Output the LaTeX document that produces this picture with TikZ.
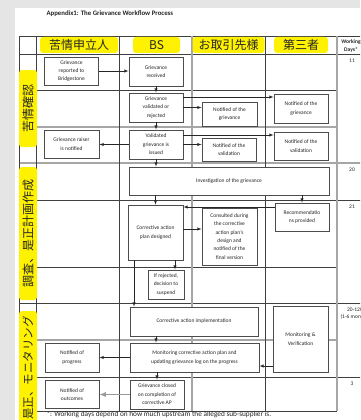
\documentclass[tikz,border=0pt]{standalone}
\usepackage{fontspec}
\setmainfont{Carlito}
\newfontfamily\jp{Noto Sans CJK JP}
\tikzstyle{task} = [draw=black!70, line width=0.8pt, fill=white, align=center, text=black!85, font={\fontsize{5.5}{8.4}\selectfont}, inner sep=1pt, minimum width=54pt, minimum height=29pt]
\tikzstyle{lane} = [fill=yellow, rounded corners=3pt, text=black!85, font={\jp\fontsize{12}{12}\selectfont}, inner sep=0pt]
\tikzstyle{rule} = [black!75, line width=0.6pt]
\tikzstyle{ruleg} = [black!35, line width=1.4pt]
\tikzstyle{days} = [anchor=north, align=center, text=black!85, font={\fontsize{5.5}{7}\selectfont}]
\tikzstyle{flow} = [->, >=latex, black!85, line width=0.5pt]

\begin{document}
\begin{tikzpicture}[x=1pt,y=-1pt]
  \useasboundingbox (0,0) rectangle (360,420);
  \clip (0,0) rectangle (360,420);
  \fill[black!10] (0,0) rectangle (360,420);
  \fill[white] (15,8) rectangle (360,420);
  \node[anchor=west, text=black!85, font={\bfseries\fontsize{6.8}{8}\selectfont}] (title) at (43,14) {Appendix1: The Grievance Workflow Process};
  \node[anchor=west, text=black!85, font={\fontsize{7.3}{9}\selectfont}] (note) at (43,414.5) {*: Working days depend on how much upstream the alleged sub-supplier is.};
  % table rules
  \foreach \y in {36,54,200,303,377} \draw[rule] (19,\y) -- (362,\y);
  \foreach \y in {90,267,411} \draw[rule] (19,\y) -- (337,\y);
  \draw[ruleg] (19,127) -- (337,127);
  \draw[ruleg] (19,340) -- (337,340);
  \draw[ruleg] (19,163) -- (362,163);
  \foreach \x in {19,36,119,265} \draw[rule] (\x,36) -- (\x,411);
  \foreach \x in {192,337} \draw[ruleg] (\x,36) -- (\x,411);
  % lanes
  \node[lane, minimum width=78pt, minimum height=16pt] (h1) at (79,45) {苦情申立人};
  \node[lane, minimum width=47pt, minimum height=16pt] (h2) at (156.5,45) {BS};
  \node[lane, minimum width=72pt, minimum height=16pt] (h3) at (228.5,45) {お取引先様};
  \node[lane, minimum width=54pt, minimum height=16pt] (h4) at (301,45) {第三者};
  \node[lane, rotate=90, minimum width=77pt, minimum height=18pt] (p1) at (28,108.5) {苦情確認};
  \node[lane, rotate=90, minimum width=133pt, minimum height=18pt] (p2) at (28,233.5) {調査、是正計画作成};
  \node[lane, rotate=90, minimum width=114pt, minimum height=18pt, font={\jp\fontsize{11.5}{12}\selectfont}] (p3) at (28,368) {是正、モニタリング};
  % working days
  \node[days, font={\bfseries\fontsize{5.5}{8}\selectfont}] (wd) at (351,36) {Working\\Days*};
  \node[days] (d1) at (352,55) {11};
  \node[days] (d2) at (352,164) {20};
  \node[days] (d3) at (352,201) {21};
  \node[days] (d4) at (355,304) {20-120\\(1-6 months)};
  \node[days] (d5) at (352,378) {3};
  % boxes
  \node[task, minimum height=28pt] (rep) at (71.5,71) {Grievance\\reported to\\Bridgestone};
  \node[task] (rec) at (156,71.5) {Grievance\\received};
  \node[task] (val) at (156,107.5) {Grievance\\validated or\\rejected};
  \node[task, minimum width=55pt, minimum height=24pt] (ngr) at (229.5,114) {Notified of the\\grievance};
  \node[task] (ngr3) at (301,108.5) {Notified of the\\grievance};
  \node[task] (iss) at (156,144.5) {Validated\\grievance is\\issued};
  \node[task, minimum height=23pt] (nva) at (229,149.5) {Notified of the\\validation};
  \node[task, minimum height=28pt] (nva3) at (301,146) {Notified of the\\validation};
  \node[task, minimum width=55pt, minimum height=28pt] (rai) at (71.5,144) {Grievance raiser\\is notified};
  \node[task, minimum width=200pt, minimum height=28pt] (inv) at (229,181) {Investigation of the grievance};
  \node[task, minimum width=55pt, minimum height=55pt] (plan) at (155.5,232.5) {Corrective action\\plan designed};
  \node[task, minimum width=55pt, minimum height=57pt] (con) at (229.5,236.5) {Consulted during\\the corrective\\action plan's\\design and\\notified of the\\final version};
  \node[task, minimum height=28pt] (recm) at (302,217) {Recommendatio\\ns provided};
  \node[task, minimum width=36pt] (sus) at (166,284.5) {If rejected,\\decision to\\suspend};
  \node[task, minimum width=128pt] (imp) at (194,321.5) {Corrective action implementation};
  \node[task, minimum width=55pt, minimum height=66pt] (mv) at (300.5,339) {Monitoring \&\\Verification};
  \node[task, minimum width=129pt] (mon) at (194.5,357.5) {Monitoring corrective action plan and\\updating grievance log on the progress};
  \node[task] (npr) at (72,357.5) {Notified of\\progress};
  \node[task, minimum height=29pt] (clo) at (157,394.5) {Grievance closed\\on completion of\\corrective AP};
  \node[task, minimum height=28pt] (nou) at (72,394.5) {Notified of\\outcomes};
  % flow
  \draw[flow] (rep.east) -- (rep.east -| rec.west);
  \draw[flow] (rec) -- (val);
  \draw[flow] (val.east) -- (val.east -| ngr.west);
  \draw[flow] ([yshift=10.5pt]val.east) -- ([yshift=10.5pt]val.east -| ngr3.west);
  \draw[flow] (val) -- (iss);
  \draw[flow] (iss.west) -- (iss.west -| rai.east);
  \draw[flow] (iss.east) -- (iss.east -| nva.west);
  \draw[flow] ([yshift=9.5pt]iss.east) -- ([yshift=9.5pt]iss.east -| nva3.west);
  \draw[flow] (iss.south) -- (iss.south |- inv.north);
  \draw[flow] (inv.south -| plan.north) -- (plan.north);
  \draw[flow] (inv.south -| recm.north) -- (recm.north);
  \draw[flow] ([yshift=10pt]recm.west) -- ([yshift=10pt]recm.west -| plan.east);
  \draw[flow] ([yshift=3.5pt]plan.east) -- ([yshift=3.5pt]plan.east -| con.west);
  \draw[flow] ([xshift=9pt]sus.north |- plan.south) -- ([xshift=9pt]sus.north);
  \draw[flow] ([xshift=-21.5pt]plan.south) -- ([xshift=-21.5pt]plan.south |- imp.north);
  \draw[flow] ([xshift=-38pt]imp.south) -- ([xshift=-38pt]imp.south |- mon.north);
  \draw[flow] ([yshift=-27pt]mv.west) -- ([yshift=-27pt]mv.west -| mon.east);
  \draw[flow] (mon.west) -- (mon.west -| npr.east);
  \draw[flow] (mon.south -| clo.north) -- (clo.north);
  \draw[flow, black!40, line width=1.2pt] (clo.west) -- (clo.west -| nou.east);
\end{tikzpicture}
\end{document}
